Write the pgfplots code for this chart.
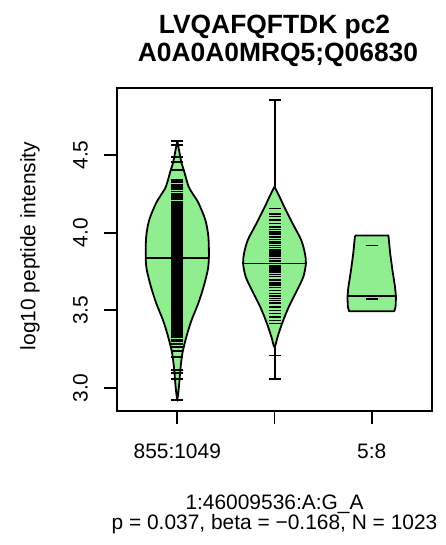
\documentclass[border=0pt]{standalone}
\usepackage{fontspec}
\setmainfont{Liberation Sans}
\usepackage{pgfplots}
\pgfplotsset{compat=1.18}
\definecolor{beangreen}{RGB}{144,238,144}
\begin{document}
\begin{tikzpicture}
\useasboundingbox (0,0) rectangle (446bp,545bp);
\begin{axis}[
  at={(117bp,134bp)}, anchor=south west,
  scale only axis, width=315bp, height=323bp,
  xmin=0.38, xmax=3.62, ymin=2.852, ymax=4.931,
  axis line style={line width=1.8bp},
  xtick={1,2,3}, xticklabels={855:1049,,5:8},
  ytick={3,3.5,4,4.5},
  tick align=outside, xtick pos=bottom, ytick pos=left,
  major tick length=13bp,
  every tick/.style={black, line width=1.8bp},
  tick label style={font=\fontsize{21}{25}\selectfont},
  /pgf/number format/assume math mode=true,
  yticklabel style={/pgf/number format/.cd, fixed, fixed zerofill, precision=1, /tikz/.cd, xshift=-23.5bp, rotate=90, anchor=center},
  xticklabel style={anchor=base, yshift=-34.3bp},
]
% bean 1
\addplot[fill=beangreen, draw=black, line width=1.8bp, smooth, tension=0.5] coordinates {
(1,4.592) (1.024,4.511) (1.045,4.446) (1.067,4.403) (1.117,4.296) (1.17,4.24) (1.22,4.188) (1.289,4.081) (1.32,3.973) (1.325,3.839) (1.313,3.758) (1.27,3.65) (1.215,3.543) (1.146,3.435) (1.093,3.328) (1.052,3.221) (1.031,3.113) (1.017,3.008) (1,2.930)
(0.983,3.008) (0.969,3.113) (0.948,3.221) (0.907,3.328) (0.854,3.435) (0.785,3.543) (0.73,3.65) (0.687,3.758) (0.675,3.839) (0.68,3.973) (0.711,4.081) (0.78,4.188) (0.83,4.24) (0.883,4.296) (0.933,4.403) (0.955,4.446) (0.976,4.511) (1,4.592)};
% bean 2 whiskers
\addplot[draw=black, line width=2bp] coordinates {(2,4.29) (2,4.855)};
\addplot[draw=black, line width=2bp] coordinates {(2,3.27) (2,3.057)};
% bean 2
\addplot[fill=beangreen, draw=black, line width=1.8bp, smooth, tension=0.5] coordinates {
(2,4.296) (2.052,4.231) (2.10,4.166) (2.186,4.059) (2.275,3.952) (2.313,3.866) (2.323,3.801) (2.296,3.715) (2.232,3.629) (2.146,3.521) (2.077,3.414) (2.031,3.327) (2,3.263)
(1.969,3.327) (1.923,3.414) (1.854,3.521) (1.768,3.629) (1.704,3.715) (1.677,3.801) (1.687,3.866) (1.725,3.952) (1.814,4.059) (1.90,4.166) (1.948,4.231) (2,4.296)};
% bean 3
\addplot[fill=beangreen, draw=black, line width=1.8bp, line join=round] coordinates {
(2.828,3.981) (3.172,3.981) (3.19,3.866) (3.213,3.758) (3.24,3.65) (3.25,3.586) (3.245,3.521) (3.232,3.494) (2.768,3.494) (2.755,3.521) (2.75,3.586) (2.76,3.65) (2.787,3.758) (2.81,3.866) (2.828,3.981)};
% bean lines, group 1
\addplot[only marks, mark=-, mark size=6bp, mark options={draw=black, line width=1.9bp}] coordinates {
(1,4.592) (1,4.565) (1,4.489) (1,4.457) (1,4.403) (1,4.339) (1,4.325) (1,4.31) (1,4.30) (1,4.29) (1,4.28) (1,4.265) (1,4.25) (1,4.24) (1,4.228) (1,4.215) (1,4.20) (1,4.19) (1,4.178) (1,4.166) (1,4.154) (1,4.142) (1,4.130) (1,4.118) (1,4.106) (1,4.094) (1,4.082) (1,4.070) (1,4.058) (1,4.046) (1,4.034) (1,4.022) (1,4.010) (1,3.998) (1,3.986) (1,3.974) (1,3.962) (1,3.950) (1,3.938) (1,3.926) (1,3.914) (1,3.902) (1,3.890) (1,3.878) (1,3.866) (1,3.854) (1,3.842) (1,3.830) (1,3.818) (1,3.806) (1,3.794) (1,3.782) (1,3.770) (1,3.758) (1,3.746) (1,3.734) (1,3.722) (1,3.710) (1,3.698) (1,3.686) (1,3.674) (1,3.662) (1,3.650) (1,3.638) (1,3.626) (1,3.614) (1,3.602) (1,3.590) (1,3.578) (1,3.566) (1,3.554) (1,3.542) (1,3.530) (1,3.518) (1,3.506) (1,3.494) (1,3.482) (1,3.470) (1,3.458) (1,3.446) (1,3.434) (1,3.422) (1,3.410) (1,3.398) (1,3.386) (1,3.374) (1,3.362) (1,3.350) (1,3.338) (1,3.326) (1,3.312) (1,3.300) (1,3.285) (1,3.265) (1,3.240) (1,3.199) (1,3.113) (1,3.095) (1,3.058) (1,2.925)};
% bean lines, groups 2 and 3
\addplot[only marks, mark=-, mark size=6bp, mark options={draw=black, line width=1.4bp}] coordinates {
(2,4.855) (2,4.156) (2,4.119) (2,4.102) (2,4.081) (2,4.059) (2,4.037) (2,4.020) (2,4.005) (2,3.990) (2,3.973) (2,3.956) (2,3.941) (2,3.929) (2,3.917) (2,3.905) (2,3.893) (2,3.881) (2,3.869) (2,3.857) (2,3.845) (2,3.833) (2,3.818) (2,3.790) (2,3.778) (2,3.766) (2,3.754) (2,3.742) (2,3.730) (2,3.718) (2,3.694) (2,3.677) (2,3.662) (2,3.647) (2,3.629) (2,3.608) (2,3.591) (2,3.576) (2,3.564) (2,3.552) (2,3.543) (2,3.521) (2,3.500) (2,3.478) (2,3.457) (2,3.435) (2,3.414) (2,3.210) (2,3.057)
(3,3.918) (3,3.574)};
% medians
\addplot[draw=black, line width=1.8bp] coordinates {(0.675,3.839) (1.325,3.839)};
\addplot[draw=black, line width=1.8bp] coordinates {(1.677,3.801) (2.323,3.801)};
\addplot[draw=black, line width=1.8bp] coordinates {(2.75,3.59) (3.25,3.59)};
\end{axis}
\node[anchor=base, font=\fontsize{26.5}{30}\selectfont\bfseries] at (274.5bp,511.7bp) {LVQAFQFTDK pc2};
\node[anchor=base, font=\fontsize{26.5}{30}\selectfont\bfseries] at (278bp,483.3bp) {A0A0A0MRQ5;Q06830};
\node[rotate=90, anchor=center, font=\fontsize{21}{25}\selectfont] at (30bp,299bp) {log10 peptide intensity};
\node[anchor=base, font=\fontsize{21}{25}\selectfont] at (274.5bp,36bp) {1:46009536:A:G\_A};
\node[anchor=base, font=\fontsize{21}{25}\selectfont] at (274.5bp,16bp) {p = 0.037, beta = −0.168, N = 1023};
\end{tikzpicture}
\end{document}
